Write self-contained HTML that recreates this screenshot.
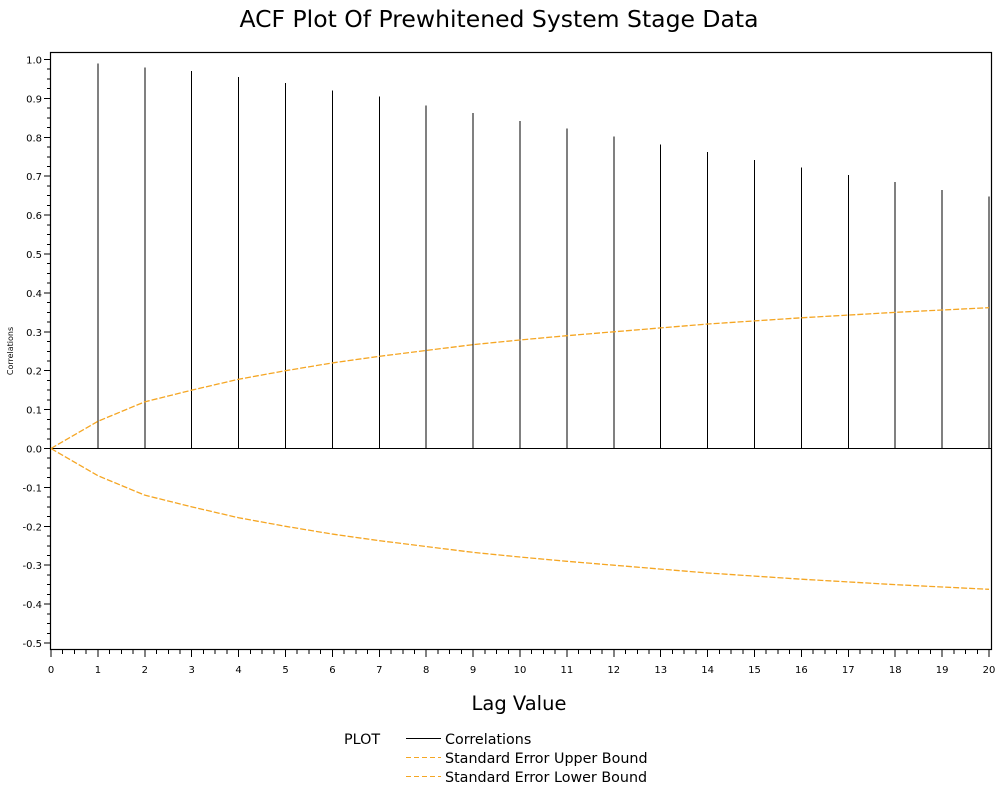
<!DOCTYPE html>
<html><head><meta charset="utf-8"><style>
body{margin:0;background:#fff;font-family:"DejaVu Sans","Liberation Sans",sans-serif}
</style></head><body>
<svg id="c" width="1008" height="806" xmlns="http://www.w3.org/2000/svg">
<text x="499" y="27" text-anchor="middle" font-size="23.5">ACF Plot Of Prewhitened System Stage Data</text>
<text x="519" y="710" text-anchor="middle" font-size="19.5">Lag Value</text>
<text transform="translate(13,351) rotate(-90)" text-anchor="middle" font-size="8">Correlations</text>
<rect x="50.5" y="52.5" width="941" height="597" fill="none" stroke="#000" stroke-width="1.2"/>
<g id="ax" shape-rendering="crispEdges"></g><g id="marks"></g>
<g font-size="14.3">
<text x="344" y="744" fill="#000">PLOT</text>
<g><line x1="406" y1="738.5" x2="441" y2="738.5" stroke="#000" shape-rendering="crispEdges"/><text x="445" y="744">Correlations</text></g>
<g><line x1="406" y1="757.5" x2="441" y2="757.5" stroke="#f5a623" stroke-dasharray="5,3"/><text x="445" y="763">Standard Error Upper Bound</text></g>
<g><line x1="406" y1="776.5" x2="441" y2="776.5" stroke="#f5a623" stroke-dasharray="5,3"/><text x="445" y="782">Standard Error Lower Bound</text></g>
</g>
</svg>
<script>
const lags=[1,2,3,4,5,6,7,8,9,10,11,12,13,14,15,16,17,18,19,20];
const correlations=[0.99,0.98,0.97,0.955,0.94,0.92,0.905,0.882,0.862,0.842,0.822,0.802,0.782,0.762,0.742,0.722,0.703,0.685,0.665,0.648];
const upperBound=[0.07,0.12,0.15,0.178,0.2,0.22,0.237,0.252,0.267,0.279,0.29,0.3,0.31,0.32,0.328,0.336,0.343,0.35,0.356,0.362];
const yTicks=[1.0,0.9,0.8,0.7,0.6,0.5,0.4,0.3,0.2,0.1,0.0,-0.1,-0.2,-0.3,-0.4,-0.5];
const xTicks=[0,1,2,3,4,5,6,7,8,9,10,11,12,13,14,15,16,17,18,19,20];
const NS="http://www.w3.org/2000/svg";
const X=v=>51+v*46.9, Y=v=>448.5-v*389;
function mk(p,t,a){const e=document.createElementNS(NS,t);for(const k in a)e.setAttribute(k,a[k]);p.appendChild(e);return e;}
const ax=document.getElementById('ax'),mg=document.getElementById('marks');
for(let v=-0.5;v<=1.0001;v+=0.025){
  const major=Math.abs(v*10-Math.round(v*10))<1e-6;
  const t=mk(ax,'line',{x1:major?44:47,x2:50,y1:Y(v),y2:Y(v),stroke:'#000'});
  
  
}
yTicks.forEach(v=>{const t=mk(ax,'text',{x:42,y:Y(v)+4,'text-anchor':'end','font-size':10});t.textContent=v.toFixed(1);
  
  });
for(let v=0;v<=20.0001;v+=0.25){
  const major=Math.abs(v-Math.round(v))<1e-6;
  const t=mk(ax,'line',{x1:X(v),x2:X(v),y1:650,y2:major?657:654,stroke:'#000'});
  
  
}
xTicks.forEach(v=>{const t=mk(ax,'text',{x:X(v),y:673,'text-anchor':'middle','font-size':10});t.textContent=v;
  
  });
const zl=mk(mg,'line',{x1:51,x2:991,y1:Y(0),y2:Y(0),stroke:'#000','shape-rendering':'crispEdges'});


lags.forEach((l,i)=>{const b=mk(mg,'line',{x1:X(l),x2:X(l),y1:Y(0),y2:Y(correlations[i]),stroke:'#000','shape-rendering':'crispEdges'});
  
  });
function path(sign){let d='M'+X(0)+','+Y(0);lags.forEach((l,i)=>d+=' L'+X(l)+','+Y(sign*upperBound[i]));return d;}
const up=mk(mg,'path',{d:path(1),fill:'none',stroke:'#f5a623','stroke-width':1.3,'stroke-dasharray':'6,2'});


const lo=mk(mg,'path',{d:path(-1),fill:'none',stroke:'#f5a623','stroke-width':1.3,'stroke-dasharray':'6,2'});


</script>
</body></html>
